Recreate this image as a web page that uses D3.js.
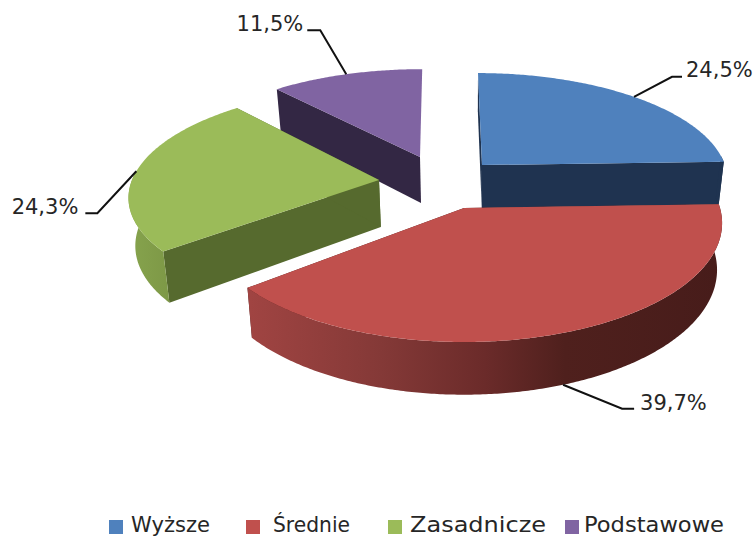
<!DOCTYPE html>
<html>
<head>
<meta charset="utf-8">
<script src="https://cdnjs.cloudflare.com/ajax/libs/d3/7.8.5/d3.min.js"></script>
<style>
  html, body { margin: 0; background: #fff; }
  text { font-family: "DejaVu Sans", sans-serif; fill: #262626; }
</style>
</head>
<body>
<script>
// Data.
const categories = ['Wyższe', 'Średnie', 'Zasadnicze', 'Podstawowe']
const shares = [24.5, 39.7, 24.3, 11.5]
const shareLabels = ['24,5%', '39,7%', '24,3%', '11,5%']

const width = 754
const height = 538

// Styles, per slice.
const topColors = ['#4f81bd', '#c0504d', '#9bbb59', '#8064a2']
const wallColors = ['#1f3350', '#4e1f1d', '#566a2e', '#332744']

// Placement of each exploded slice on the perspective plane.
const sliceViews = [
  { ax: 482, ay: 165, rx: 243, ry: 103.6, depth: 43, skew: 4.5 },
  { ax: 464, ay: 208, rx: 256, ry: 117, depth: 46, skew: 0 },
  { ax: 379, ay: 180, rx: 247, ry: 105, depth: 47, skew: -10 },
  { ax: 420, ay: 157, rx: 240, ry: 99, depth: 46, skew: -2.5 }
]

// Elbow offsets of the leader lines, relative to where they leave the slice.
const leaders = [
  { dx: 38, dy: -20, run: 10, gap: 4, anchor: 'start' },
  { dx: 59, dy: 24, run: 12, gap: 6, anchor: 'start' },
  { dx: -39, dy: 42, run: -12, gap: -7, anchor: 'end' },
  { dx: -26, dy: -44, run: -13, gap: -4, anchor: 'end' }
]

const legendX = [109, 246, 388, 565]
const legendTextX = [22, 27, 22, 19]
const legendWidths = [79, 77, 136, 140]

const perspective = 0.127
const vanishX = 470
const wallConverge = 0.02

const color = d3.scaleOrdinal().domain(categories).range(topColors)

const svg = d3.select('body')
  .append('svg')
    .attr('width', width)
    .attr('height', height)
    .style('display', 'block')

const defs = svg.append('defs')

// Shading along the curved walls.
const addGradient = (id, x1, x2, stops) => {
  const g = defs.append('linearGradient')
    .attr('id', id)
    .attr('gradientUnits', 'userSpaceOnUse')
    .attr('x1', x1).attr('x2', x2)
    .attr('y1', 0).attr('y2', 0)
  stops.forEach(s => g.append('stop').attr('offset', s[0]).attr('stop-color', s[1]))
}
addGradient('wall-red', 250, 720, [[0, '#a04442'], [0.28, '#843937'], [0.5, '#6b2b2a'], [0.67, '#4f201d'], [1, '#471c1a']])
addGradient('wall-green', 130, 170, [[0, '#86a34d'], [1, '#7d9846']])

// Project a point of the slice: angle in radians clockwise from the top, r 0..1, z 0 top, 1 bottom.
const project = (view, angle, r, z) => {
  const gx = r * Math.sin(angle)
  const gy = -r * Math.cos(angle)
  const p = 1 / (1 - perspective * gy)
  let x = view.ax + view.rx * gx * p + view.skew * gy * p
  const y = view.ay + view.ry * gy * p + z * view.depth * p
  x -= z * (x - vanishX) * wallConverge
  return [x, y]
}

const pie = d3.pie().sort(null).value(d => d)
const slices = pie(shares)
const line = d3.line()

const arcAngles = (a0, a1) => {
  const n = Math.ceil((a1 - a0) / 0.01)
  return d3.range(n + 1).map(i => a0 + (a1 - a0) * i / n)
}

const drawSlice = i => {
  const s = slices[i]
  const view = sliceViews[i]
  const g = svg.append('g').attr('class', 'slice')
  const angles = arcAngles(s.startAngle, s.endAngle)
  const wall = wallColors[i]

  // Radial walls. The closing wall of the last slice faces away from the viewer.
  const radial = a => [
    project(view, a, 0, 0), project(view, a, 1, 0),
    project(view, a, 1, 1), project(view, a, 0, 1)
  ]
  g.append('path').attr('d', line(radial(s.startAngle)) + 'Z').attr('fill', wall)
  if (i !== 3) g.append('path').attr('d', line(radial(s.endAngle)) + 'Z').attr('fill', wall)

  // Curved wall, only the part that faces the viewer.
  const front = angles.filter(a => Math.cos(a) < 0.1)
  if (front.length) {
    const band = front.map(a => project(view, a, 1, 0))
      .concat(front.slice().reverse().map(a => project(view, a, 1, 1)))
    const fill = i === 1 ? 'url(#wall-red)' : i === 2 ? 'url(#wall-green)' : wall
    g.append('path').attr('d', line(band) + 'Z').attr('fill', fill)
  }

  // Top face.
  const face = [project(view, 0, 0, 0)].concat(angles.map(a => project(view, a, 1, 0)))
  g.append('path').attr('d', line(face) + 'Z').attr('fill', color(categories[i]))
}

// Back to front.
;[3, 0, 2, 1].forEach(drawSlice)

// Leader lines and value labels.
slices.forEach((s, i) => {
  const mid = (s.startAngle + s.endAngle) / 2
  const view = sliceViews[i]
  const frontFacing = Math.cos(mid) < -0.5
  const a = project(view, mid, 1, frontFacing ? 1 : 0)
  const l = leaders[i]
  const knee = [a[0] + l.dx, a[1] + l.dy]
  const end = [knee[0] + l.run, knee[1]]
  svg.append('path')
    .attr('d', line([a, knee, end]))
    .attr('fill', 'none')
    .attr('stroke', '#111')
    .attr('stroke-width', 2)
  svg.append('text')
    .attr('x', end[0] + l.gap)
    .attr('y', end[1] + (i === 0 ? 0 : 1))
    .attr('text-anchor', l.anchor)
    .attr('font-size', 21)
    .text(shareLabels[i])
})

// Legend.
const legend = svg.selectAll('.legend-item')
  .data(categories)
  .enter().append('g')
    .attr('class', 'legend-item')
    .attr('transform', (d, i) => `translate(${legendX[i]}, 0)`)

legend.append('rect')
  .attr('y', 520)
  .attr('width', 14)
  .attr('height', 14)
  .attr('fill', d => color(d))

legend.append('text')
  .attr('x', (d, i) => legendTextX[i])
  .attr('y', 532)
  .attr('font-size', 21)
  .attr('textLength', (d, i) => legendWidths[i])
  .attr('lengthAdjust', 'spacingAndGlyphs')
  .text(d => d)
</script>
</body>
</html>
